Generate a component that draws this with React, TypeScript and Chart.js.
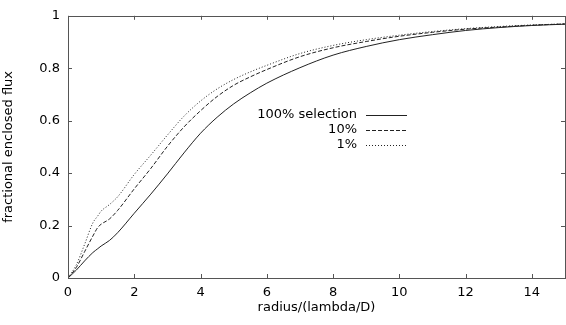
import React, { useEffect, useRef } from "react";
import { Chart, registerables } from "chart.js";

Chart.register(...registerables);

const radius = [0, 0.25, 0.5, 0.75, 0.9, 1, 1.25, 1.5, 2, 2.5, 3, 3.5, 4, 4.5, 5, 5.5, 6, 7, 8, 9, 10, 11, 12, 13, 14, 15];
const sel100 = [0, 0.03, 0.065, 0.097, 0.112, 0.122, 0.143, 0.173, 0.247, 0.32, 0.397, 0.477, 0.552, 0.613, 0.664, 0.706, 0.743, 0.802, 0.85, 0.883, 0.909, 0.928, 0.944, 0.955, 0.963, 0.968];
const sel10 = [0, 0.04, 0.1, 0.16, 0.193, 0.205, 0.225, 0.258, 0.34, 0.418, 0.502, 0.576, 0.638, 0.692, 0.735, 0.767, 0.795, 0.844, 0.878, 0.902, 0.922, 0.937, 0.949, 0.957, 0.964, 0.969];
const sel1 = [0, 0.05, 0.128, 0.21, 0.237, 0.255, 0.28, 0.31, 0.395, 0.469, 0.545, 0.617, 0.675, 0.721, 0.757, 0.786, 0.811, 0.856, 0.887, 0.909, 0.926, 0.94, 0.951, 0.959, 0.965, 0.969];
const seriesLabels = ["100% selection", "10%", "1%"];
const xTicks = [0, 2, 4, 6, 8, 10, 12, 14];
const yTicks = [0, 0.2, 0.4, 0.6, 0.8, 1];

const FONT = "'DejaVu Sans', sans-serif";
const LINE = "#222";
const FRAME = "#555";

const framePlugin = {
  id: "gnuFrame",
  afterDatasetsDraw(chart: any) {
    const { ctx, chartArea: a, scales } = chart;
    const tl = 4;
    ctx.save();
    ctx.strokeStyle = FRAME;
    ctx.lineWidth = 1;
    ctx.beginPath();
    for (const t of scales.x.ticks) {
      const px = Math.round(scales.x.getPixelForValue(t.value)) + 0.5;
      ctx.moveTo(px, a.bottom);
      ctx.lineTo(px, a.bottom - tl);
      ctx.moveTo(px, a.top);
      ctx.lineTo(px, a.top + tl);
    }
    for (const t of scales.y.ticks) {
      const py = Math.round(scales.y.getPixelForValue(t.value)) + 0.5;
      ctx.moveTo(a.left, py);
      ctx.lineTo(a.left + tl, py);
      ctx.moveTo(a.right, py);
      ctx.lineTo(a.right - tl, py);
    }
    ctx.stroke();
    ctx.strokeRect(Math.round(a.left) + 0.5, Math.round(a.top) + 0.5, Math.round(a.right - a.left), Math.round(a.bottom - a.top));

    // legend
    ctx.font = "13px " + FONT;
    ctx.textAlign = "right";
    ctx.textBaseline = "middle";
    ctx.fillStyle = "#000";
    const textRight = 357;
    const lx0 = 366;
    const lx1 = 407;
    chart.data.datasets.forEach((ds: any, i: number) => {
      const y = 115 + i * 15;
      ctx.fillText(ds.label, textRight, y);
      ctx.beginPath();
      ctx.setLineDash(ds.borderDash || []);
      ctx.strokeStyle = LINE;
      ctx.lineWidth = 1;
      ctx.moveTo(lx0, y + 0.5);
      ctx.lineTo(lx1, y + 0.5);
      ctx.stroke();
    });
    ctx.setLineDash([]);
    ctx.restore();
  },
};

export default function App() {
  const ref = useRef<HTMLCanvasElement | null>(null);
  useEffect(() => {
    if (!ref.current) return;
    const mk = (arr: number[]) => radius.map((r, i) => ({ x: r, y: arr[i] }));
    const chart = new Chart(ref.current, {
      type: "line",
      data: {
        datasets: [
          { label: seriesLabels[0], data: mk(sel100), borderColor: LINE, borderWidth: 1, pointRadius: 0, cubicInterpolationMode: "monotone" },
          { label: seriesLabels[1], data: mk(sel10), borderColor: LINE, borderWidth: 1, pointRadius: 0, borderDash: [4, 2], cubicInterpolationMode: "monotone" },
          { label: seriesLabels[2], data: mk(sel1), borderColor: LINE, borderWidth: 1, pointRadius: 0, borderDash: [1, 2], cubicInterpolationMode: "monotone" },
        ],
      },
      options: {
        animation: false,
        responsive: false,
        maintainAspectRatio: false,
        layout: { padding: { top: 6, right: 1, left: 0, bottom: 0 } },
        plugins: { legend: { display: false }, tooltip: { enabled: false } },
        scales: {
          x: {
            type: "linear",
            min: 0,
            max: 15,
            grid: { display: false, drawTicks: false },
            border: { display: false },
            afterBuildTicks: (s: any) => { s.ticks = xTicks.map((v) => ({ value: v })); },
            afterFit: (s: any) => { s.height = 47; },
            ticks: { color: "#000", font: { family: FONT, size: 13 }, padding: 7, maxRotation: 0, autoSkip: false, callback: (v: any) => String(v) },
            title: { display: true, text: "radius/(lambda/D)", color: "#000", font: { family: FONT, size: 13 }, padding: { top: 0, bottom: 10 } },
          },
          y: {
            type: "linear",
            min: 0,
            max: 1,
            grid: { display: false, drawTicks: false },
            border: { display: false },
            afterBuildTicks: (s: any) => { s.ticks = yTicks.map((v) => ({ value: v })); },
            afterFit: (s: any) => { s.width = 68; },
            ticks: { color: "#000", font: { family: FONT, size: 13 }, padding: 8, autoSkip: false, callback: (v: any) => String(v) },
            title: { display: true, text: "fractional enclosed flux", color: "#000", font: { family: FONT, size: 13 }, padding: { top: 1, bottom: 0 } },
          },
        },
      },
      plugins: [framePlugin],
    } as any);
    return () => chart.destroy();
  }, []);
  return (
    <div style={{ position: "fixed", left: 0, top: 0, width: 566, height: 325, background: "#fff" }}>
      <canvas ref={ref} width={566} height={325} style={{ width: 566, height: 325, display: "block" }} />
    </div>
  );
}
